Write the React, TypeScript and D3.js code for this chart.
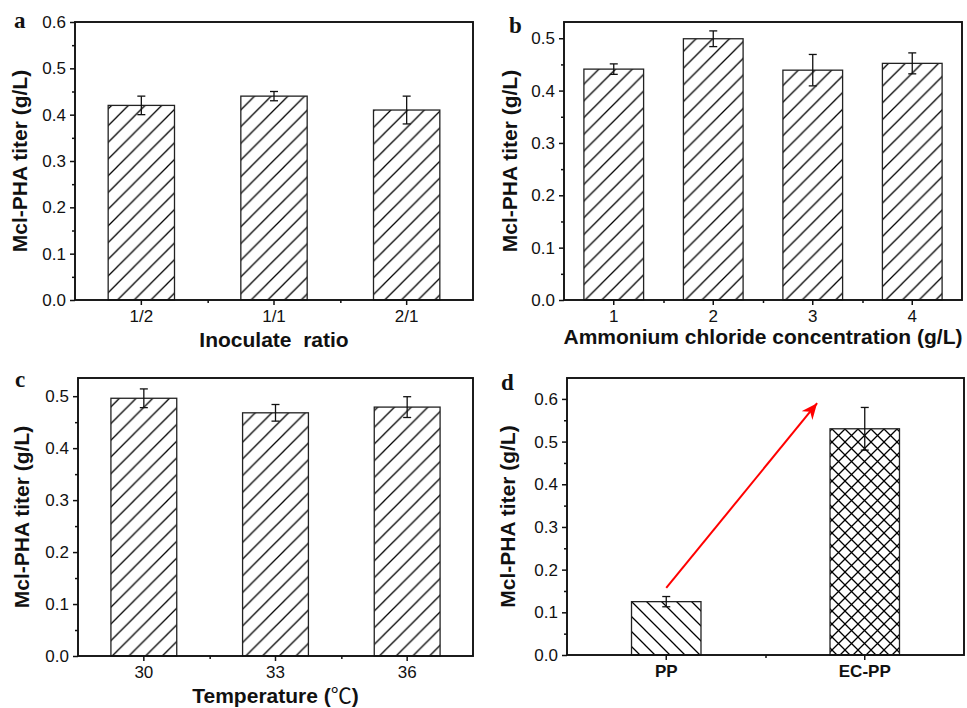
import { useEffect, useRef } from "react";
import * as d3 from "d3";

// panel a - inoculate ratio
const ratioCats = ["1/2", "1/1", "2/1"];
const ratioVals = [0.42, 0.44, 0.41];
const ratioErr = [0.02, 0.01, 0.03];
const ratioTicks = [0, 0.1, 0.2, 0.3, 0.4, 0.5, 0.6];

// panel b - ammonium chloride
const nh4Cats = ["1", "2", "3", "4"];
const nh4Vals = [0.441, 0.499, 0.439, 0.452];
const nh4Err = [0.01, 0.015, 0.03, 0.02];
const nh4Ticks = [0, 0.1, 0.2, 0.3, 0.4, 0.5];

// panel c - temperature
const tempCats = ["30", "33", "36"];
const tempVals = [0.496, 0.468, 0.479];
const tempErr = [0.018, 0.016, 0.02];
const tempTicks = [0, 0.1, 0.2, 0.3, 0.4, 0.5];

// panel d - strains
const strainCats = ["PP", "EC-PP"];
const strainVals = [0.125, 0.53];
const strainErr = [0.012, 0.05];
const strainTicks = [0, 0.1, 0.2, 0.3, 0.4, 0.5, 0.6];
// arrow in (category index, value) units
const arrowStart = [0.5, 0.157];
const arrowEnd = [1.26, 0.59];

const yLabel = "Mcl-PHA titer (g/L)";
const sans = "'Liberation Sans', Arial, sans-serif";

const panels = [
  {
    letter: "a", cats: ratioCats, vals: ratioVals, err: ratioErr, ticks: ratioTicks, yMax: 0.6,
    xTitle: "Inoculate\u00a0 ratio", pattern: "hatchFwd", barFrac: 0.5, boldTicks: false,
    box: { x0: 75, x1: 473, y0: 22, y1: 300 }, letterPos: [14, 28], yLabelX: 27, xTitleY: 347,
  },
  {
    letter: "b", cats: nh4Cats, vals: nh4Vals, err: nh4Err, ticks: nh4Ticks, yMax: 0.531,
    xTitle: "Ammonium chloride concentration (g/L)", pattern: "hatchFwd", barFrac: 0.6, boldTicks: false,
    box: { x0: 564, x1: 962, y0: 22, y1: 300 }, letterPos: [509, 33], yLabelX: 517, xTitleY: 344,
  },
  {
    letter: "c", cats: tempCats, vals: tempVals, err: tempErr, ticks: tempTicks, yMax: 0.535,
    xTitle: "Temperature (", pattern: "hatchFwd", barFrac: 0.5, boldTicks: false,
    box: { x0: 78, x1: 473, y0: 378, y1: 656 }, letterPos: [15, 387], yLabelX: 29, xTitleY: 703,
  },
  {
    letter: "d", cats: strainCats, vals: strainVals, err: strainErr, ticks: strainTicks, yMax: 0.649,
    xTitle: "", pattern: null, barFrac: 0.35, boldTicks: true,
    box: { x0: 567, x1: 964, y0: 378, y1: 655 }, letterPos: [501, 390], yLabelX: 515, xTitleY: 0,
  },
];

function App() {
  const ref = useRef(null);

  useEffect(() => {
    const svg = d3.select(ref.current);
    svg.selectAll("*").remove();

    // hatch patterns
    const defs = svg.append("defs");
    const s = 16.7;
    defs.append("pattern")
      .attr("id", "hatchFwd").attr("patternUnits", "userSpaceOnUse")
      .attr("width", s).attr("height", s)
      .append("path")
      .attr("d", `M0,${s} L${s},0 M${-s / 2},${s / 2} L${s / 2},${-s / 2} M${s / 2},${s * 1.5} L${s * 1.5},${s / 2}`)
      .attr("stroke", "#000").attr("stroke-width", 1.3);
    const b = 15;
    defs.append("pattern")
      .attr("id", "hatchBack").attr("patternUnits", "userSpaceOnUse")
      .attr("width", b).attr("height", b)
      .append("path")
      .attr("d", `M0,0 L${b},${b} M${-b / 2},${b / 2} L${b / 2},${b * 1.5} M${b / 2},${-b / 2} L${b * 1.5},${b / 2}`)
      .attr("stroke", "#000").attr("stroke-width", 1.3);
    const c = 13;
    defs.append("pattern")
      .attr("id", "hatchCross").attr("patternUnits", "userSpaceOnUse")
      .attr("width", c).attr("height", c)
      .append("path")
      .attr("d", `M0,0 L${c},${c} M0,${c} L${c},0`)
      .attr("stroke", "#000").attr("stroke-width", 1.3);

    defs.append("marker")
      .attr("id", "arrowHead").attr("markerUnits", "userSpaceOnUse")
      .attr("markerWidth", 18).attr("markerHeight", 16)
      .attr("refX", 16).attr("refY", 7).attr("orient", "auto")
      .append("path")
      .attr("d", "M0,0 L16,7 L0,14 L5,7 Z")
      .attr("fill", "#ff0000");

    panels.forEach((p) => {
      const { x0, x1, y0, y1 } = p.box;
      const g = svg.append("g");
      const x = d3.scaleBand().domain(p.cats).range([x0, x1]);
      const xLin = d3.scaleLinear().domain([0, p.cats.length]).range([x0, x1]);
      const y = d3.scaleLinear().domain([0, p.yMax]).range([y1, y0]);
      const bw = x.bandwidth() * p.barFrac;

      // bars
      g.selectAll("rect.bar")
        .data(p.vals)
        .join("rect")
        .attr("class", "bar")
        .attr("x", (d, i) => x(p.cats[i]) + (x.bandwidth() - bw) / 2)
        .attr("width", bw)
        .attr("y", (d) => y(d))
        .attr("height", (d) => y(0) - y(d))
        .attr("fill", (d, i) => `url(#${p.pattern ?? (i === 0 ? "hatchBack" : "hatchCross")})`)
        .attr("stroke", "#222")
        .attr("stroke-width", 1.3);

      // error bars
      const eb = g.selectAll("g.err")
        .data(p.vals)
        .join("g")
        .attr("class", "err")
        .attr("transform", (d, i) => `translate(${x(p.cats[i]) + x.bandwidth() / 2},0)`)
        .attr("stroke", "#111").attr("stroke-width", 1.3);
      eb.append("line")
        .attr("y1", (d, i) => y(d - p.err[i])).attr("y2", (d, i) => y(d + p.err[i]));
      eb.append("line").attr("x1", -4).attr("x2", 4)
        .attr("y1", (d, i) => y(d - p.err[i])).attr("y2", (d, i) => y(d - p.err[i]));
      eb.append("line").attr("x1", -4).attr("x2", 4)
        .attr("y1", (d, i) => y(d + p.err[i])).attr("y2", (d, i) => y(d + p.err[i]));

      // y axis, major + minor ticks
      const minor = d3.range(0.05, p.yMax, 0.1);
      const yMinor = g.append("g").attr("transform", `translate(${x0},0)`)
        .call(d3.axisLeft(y).tickValues(minor).tickSize(3).tickFormat(() => ""));
      const yAxis = g.append("g").attr("transform", `translate(${x0},0)`)
        .call(d3.axisLeft(y).tickValues(p.ticks).tickSize(5).tickPadding(4).tickFormat(d3.format(".1f")));

      // x axis
      const xMinor = g.append("g").attr("transform", `translate(0,${y1})`)
        .call(d3.axisBottom(xLin).tickValues(d3.range(1, p.cats.length)).tickSize(3).tickFormat(() => ""));
      const xAxis = g.append("g").attr("transform", `translate(0,${y1})`)
        .call(d3.axisBottom(x).tickSize(5).tickPadding(5));

      [yMinor, yAxis, xMinor, xAxis].forEach((a) => {
        a.select(".domain").remove();
        a.selectAll("line").attr("stroke", "#111").attr("stroke-width", 1.5);
        a.selectAll("text")
          .style("font-family", sans)
          .style("font-size", "17px")
          .attr("fill", "#111");
      });
      if (p.boldTicks) {
        xAxis.selectAll("text").style("font-weight", "bold");
      }

      // frame
      g.append("rect")
        .attr("x", x0).attr("y", y0)
        .attr("width", x1 - x0).attr("height", y1 - y0)
        .attr("fill", "none").attr("stroke", "#111").attr("stroke-width", 1.9);

      // y label
      g.append("text")
        .attr("transform", `translate(${p.yLabelX},${(y0 + y1) / 2}) rotate(-90)`)
        .attr("text-anchor", "middle")
        .style("font-family", sans).style("font-weight", "bold").style("font-size", "21px")
        .attr("fill", "#111")
        .text(yLabel);

      // x label
      if (p.xTitle) {
        const t = g.append("text")
          .attr("x", (x0 + x1) / 2).attr("y", p.xTitleY)
          .attr("text-anchor", "middle")
          .style("font-family", sans).style("font-weight", "bold").style("font-size", "21px")
          .attr("fill", "#111")
          .text(p.xTitle);
        if (p.letter === "c") {
          t.append("tspan")
            .style("font-family", "'Noto Sans CJK SC', sans-serif").style("font-weight", "normal")
            .text("\u2103");
          t.append("tspan").text(")");
        }
      }

      // panel letter
      g.append("text")
        .attr("x", p.letterPos[0]).attr("y", p.letterPos[1])
        .style("font-family", "'Liberation Serif', 'Times New Roman', serif")
        .style("font-weight", "bold").style("font-size", "23px")
        .attr("fill", "#111")
        .text(p.letter);

      // red arrow in panel d
      if (p.letter === "d") {
        g.append("line")
          .attr("x1", xLin(arrowStart[0])).attr("y1", y(arrowStart[1]))
          .attr("x2", xLin(arrowEnd[0])).attr("y2", y(arrowEnd[1]))
          .attr("stroke", "#ff0000").attr("stroke-width", 2)
          .attr("marker-end", "url(#arrowHead)");
      }
    });
  }, []);

  return (
    <svg
      ref={ref}
      width={967}
      height={708}
      style={{ position: "absolute", left: 0, top: 0, background: "#fff" }}
    />
  );
}

export default App;
